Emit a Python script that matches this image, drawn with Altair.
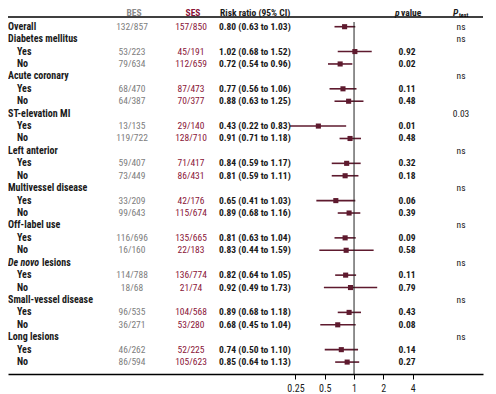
import altair as alt
import pandas as pd

labels = ["Overall", "Diabetes mellitus", "Yes", "No", "Acute coronary", "Yes", "No",
          "ST-elevation MI", "Yes", "No", "Left anterior", "Yes", "No",
          "Multivessel disease", "Yes", "No", "Off-label use", "Yes", "No",
          "De novo lesions", "Yes", "No", "Small-vessel disease", "Yes", "No",
          "Long lesions", "Yes", "No"]
bes = ["132/857", "", "53/223", "79/634", "", "68/470", "64/387", "", "13/135", "119/722",
       "", "59/407", "73/449", "", "33/209", "99/643", "", "116/696", "16/160",
       "", "114/788", "18/68", "", "96/535", "36/271", "", "46/262", "86/594"]
ses = ["157/850", "", "45/191", "112/659", "", "87/473", "70/377", "", "29/140", "128/710",
       "", "71/417", "86/431", "", "42/176", "115/674", "", "135/665", "22/183",
       "", "136/774", "21/74", "", "104/568", "53/280", "", "52/225", "105/623"]
rr = [0.80, None, 1.02, 0.72, None, 0.77, 0.88, None, 0.43, 0.91, None, 0.84, 0.81,
      None, 0.65, 0.89, None, 0.81, 0.83, None, 0.82, 0.92, None, 0.89, 0.68,
      None, 0.74, 0.85]
lo = [0.63, None, 0.68, 0.54, None, 0.56, 0.63, None, 0.22, 0.71, None, 0.59, 0.59,
      None, 0.41, 0.68, None, 0.63, 0.44, None, 0.64, 0.49, None, 0.68, 0.45,
      None, 0.50, 0.64]
hi = [1.03, None, 1.52, 0.96, None, 1.06, 1.25, None, 0.83, 1.18, None, 1.17, 1.11,
      None, 1.03, 1.16, None, 1.04, 1.59, None, 1.05, 1.73, None, 1.18, 1.04,
      None, 1.10, 1.13]
pval = ["", "", "0.92", "0.02", "", "0.11", "0.48", "", "0.01", "0.48", "", "0.32", "0.18",
        "", "0.06", "0.39", "", "0.09", "0.58", "", "0.11", "0.79", "", "0.43", "0.08",
        "", "0.14", "0.27"]
ptest = ["ns", "ns", "", "", "ns", "", "", "0.03", "", "", "ns", "", "", "ns", "", "",
         "ns", "", "", "ns", "", "", "ns", "", "", "ns", "", ""]
ticks = [0.25, 0.5, 1, 2, 4]

rows = []
for i, lab in enumerate(labels):
    sub = lab in ("Yes", "No")
    rrtxt = "" if rr[i] is None else f"{rr[i]:.2f} ({lo[i]:.2f} to {hi[i]:.2f})"
    rows.append(dict(row=i, label=lab, sub=sub, bes=bes[i], ses=ses[i], rrtxt=rrtxt,
                     est=rr[i], lo=lo[i], hi=hi[i], pval=pval[i], ptest=ptest[i]))
df = pd.DataFrame(rows)

FONT = "Roboto Condensed, Open Sans Condensed, sans-serif"
FS = 9.5
W, H = 475, 358
yscale = alt.Scale(domain=[-0.8615, 27.96], reverse=True, nice=False, zero=False)
Y = alt.Y("row:Q", scale=yscale, axis=None)
base = alt.Chart(df)

def txt(col, x, align="center", color="#1a1a1a", weight="bold", data=None, style="normal", size=FS):
    c = alt.Chart(data) if data is not None else base
    return c.mark_text(align=align, baseline="middle", font=FONT, fontSize=size,
                       fontWeight=weight, fontStyle=style, color=color).encode(
        x=alt.value(x), y=Y, text=alt.Text(f"{col}:N"))

grp = df[(~df["sub"]) & (df["label"] != "De novo lesions")]
sub = df[df["sub"]]
denovo = df[df["label"] == "De novo lesions"].assign(a="De novo", b="lesions")

layers = [
    txt("label", 0, align="left", data=grp, size=10),
    txt("label", 9, align="left", data=sub, size=10),
    txt("a", 0, align="left", data=denovo, style="italic", size=10),
    txt("b", 34, align="left", data=denovo, size=10),
    txt("bes", 124, color="#7d7d7d", weight="normal"),
    txt("ses", 183, color="#8a1538", weight="normal"),
    txt("rrtxt", 211, align="left"),
    txt("pval", 399),
    txt("ptest", 453, weight="normal"),
]

hdr = pd.DataFrame({"row": [-1.1], "bes": ["BES"], "ses": ["SES"],
                    "rr": ["Risk ratio (95% CI)"], "p": ["p"], "pv": ["value"],
                    "P": ["P"], "test": ["test"]})
layers += [
    txt("bes", 126, color="#8a8a8a", data=hdr),
    txt("ses", 185, color="#8a1538", data=hdr),
    txt("rr", 212, align="left", data=hdr),
    txt("p", 387, align="left", data=hdr, style="italic"),
    txt("pv", 393, align="left", data=hdr),
    txt("P", 445, align="left", data=hdr, style="italic"),
    alt.Chart(hdr).mark_text(align="left", baseline="middle", font=FONT, fontSize=6,
                             fontWeight="bold", dy=2).encode(
        x=alt.value(451), y=Y, text="test:N"),
]

top_line = alt.Chart(hdr).mark_rule(color="black", strokeWidth=1.5).encode(
    x=alt.value(0), x2=alt.value(W), y=alt.value(1))

f = df.dropna(subset=["est"])
xscale = alt.Scale(type="log", domain=[0.000278, 21.15], nice=False)
xaxis = alt.Axis(values=ticks, format="~g", title=None, grid=False, domainColor="black",
                 domainWidth=1.5, tickColor="black", tickSize=5, labelFont=FONT,
                 labelFontSize=10, labelColor="#1a1a1a", labelPadding=4)
ci = alt.Chart(f).mark_rule(color="#5e1a2e", strokeWidth=1.6).encode(
    x=alt.X("lo:Q", scale=xscale, axis=xaxis), x2="hi:Q", y=Y)
pts = alt.Chart(f).mark_square(color="#5e1a2e", size=26, opacity=1).encode(
    x=alt.X("est:Q", scale=xscale), y=Y)
ref = alt.Chart(hdr).mark_rule(color="#222", strokeWidth=1).encode(
    x=alt.datum(1, scale=xscale), y=alt.value(6), y2=alt.value(H))

chart = alt.layer(ci, ref, pts, top_line, *layers).properties(
    width=W, height=H,
    autosize=alt.AutoSizeParams(type="none"),
    padding={"left": 0, "top": 8, "right": 5, "bottom": 20},
).configure_view(stroke=None)

chart.save("out.html", embed_options={"renderer": "svg", "actions": False})
